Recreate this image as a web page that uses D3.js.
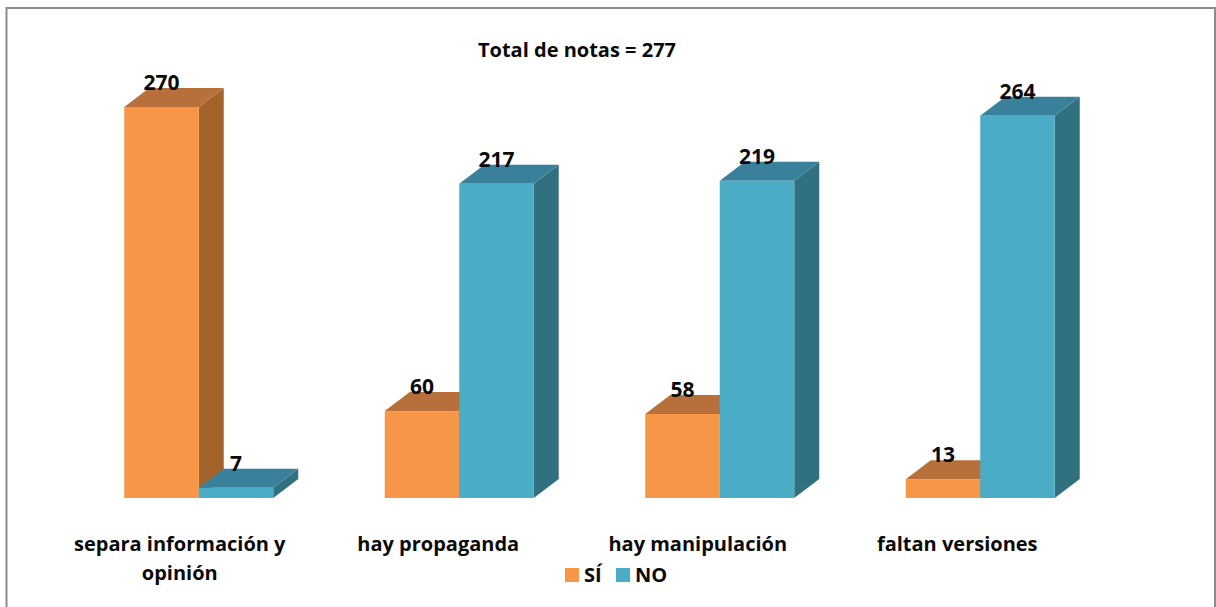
<!DOCTYPE html>
<html>
<head>
<meta charset="utf-8">
<script src="https://cdn.jsdelivr.net/npm/d3@7"></script>
<style>
  html, body { margin: 0; padding: 0; background: #fff; }
  svg { display: block; }
  text { font-family: "Open Sans", "Noto Sans", sans-serif; font-weight: 700; fill: #0a0a0a; }
</style>
</head>
<body>
<div id="chart"></div>
<script>
const categories = ["separa información y opinión", "hay propaganda", "hay manipulación", "faltan versiones"];
const categoryLines = [["separa información y", "opinión"], ["hay propaganda"], ["hay manipulación"], ["faltan versiones"]];
const seriesNames = ["SÍ", "NO"];
const si = [270, 60, 58, 13];
const no = [7, 217, 219, 264];
const title = "Total de notas = 277";

const width = 1216;
const height = 607;
const depthX = 25;
const depthY = 19;

// las etiquetas del original no estan centradas bajo cada grupo
const labelShift = [-19, -21, -22, -23];

const colors = {
  "SÍ": { front: "#f79646", top: "#b8703a", side: "#a5632c" },
  "NO": { front: "#4bacc6", top: "#39819a", side: "#31707f" }
};

const svg = d3.select("#chart").append("svg").attr("width", width).attr("height", height);

// marco exterior: sin linea inferior visible
svg.append("path")
  .attr("d", "M6.5,607V8H1215V607")
  .attr("fill", "none")
  .attr("stroke", "#8c8c8c")
  .attr("stroke-width", 2);

const x0 = d3.scaleBand().domain(categories).range([68.5, 1110.5]).paddingInner(0.428).paddingOuter(0.214);
const x1 = d3.scaleBand().domain(seriesNames).range([0, x0.bandwidth()]);
const y = d3.scaleLinear().domain([0, 270]).range([498, 107]);

const rows = [];
categories.forEach((c, i) => {
  rows.push({ cat: c, serie: "SÍ", value: si[i] });
  rows.push({ cat: c, serie: "NO", value: no[i] });
});

const bars = svg.append("g").selectAll("g").data(rows).enter().append("g");

const left = (d) => x0(d.cat) + x1(d.serie);
const right = (d) => left(d) + x1.bandwidth();

// cara lateral
bars.append("path")
  .attr("fill", (d) => colors[d.serie].side)
  .attr("d", (d) => {
    const p = d3.path();
    p.moveTo(right(d), y(d.value));
    p.lineTo(right(d) + depthX, y(d.value) - depthY);
    p.lineTo(right(d) + depthX, y(0) - depthY);
    p.lineTo(right(d), y(0));
    p.closePath();
    return p.toString();
  });

// cara superior
bars.append("path")
  .attr("fill", (d) => colors[d.serie].top)
  .attr("d", (d) => {
    const p = d3.path();
    p.moveTo(left(d), y(d.value));
    p.lineTo(left(d) + depthX, y(d.value) - depthY);
    p.lineTo(right(d) + depthX, y(d.value) - depthY);
    p.lineTo(right(d), y(d.value));
    p.closePath();
    return p.toString();
  });

// cara frontal
bars.append("rect")
  .attr("fill", (d) => colors[d.serie].front)
  .attr("x", left)
  .attr("y", (d) => y(d.value))
  .attr("width", x1.bandwidth())
  .attr("height", (d) => y(0) - y(d.value));

// etiquetas de valor
bars.append("text")
  .attr("text-anchor", "middle")
  .attr("font-size", 21)
  .attr("x", (d) => left(d) + x1.bandwidth() / 2)
  .attr("y", (d) => y(d.value) - 17)
  .text((d) => d.value);

// eje de categorias
const xLabels = svg.append("g").selectAll("text").data(categories).enter().append("text")
  .attr("text-anchor", "middle")
  .attr("font-size", 20)
  .attr("y", 551);

xLabels.selectAll("tspan")
  .data((d, i) => categoryLines[i].map((line) => ({ line, i })))
  .enter()
  .append("tspan")
  .attr("x", (d) => x0(categories[d.i]) + x0.bandwidth() / 2 + labelShift[d.i])
  .attr("dy", (d, i) => (i ? 29 : 0))
  .text((d) => d.line);

svg.append("text")
  .attr("x", 577).attr("y", 57)
  .attr("text-anchor", "middle")
  .attr("font-size", 20)
  .text(title);

// leyenda
const legendX = d3.scaleOrdinal().domain(seriesNames).range([565, 616]);
const legend = svg.append("g").selectAll("g").data(seriesNames).enter().append("g")
  .attr("transform", (d) => `translate(${legendX(d)},568)`);

legend.append("rect")
  .attr("width", 14).attr("height", 14)
  .attr("fill", (d) => colors[d].front);

legend.append("text")
  .attr("x", 19).attr("y", 14)
  .attr("font-size", 20)
  .text((d) => d);
</script>
</body>
</html>
